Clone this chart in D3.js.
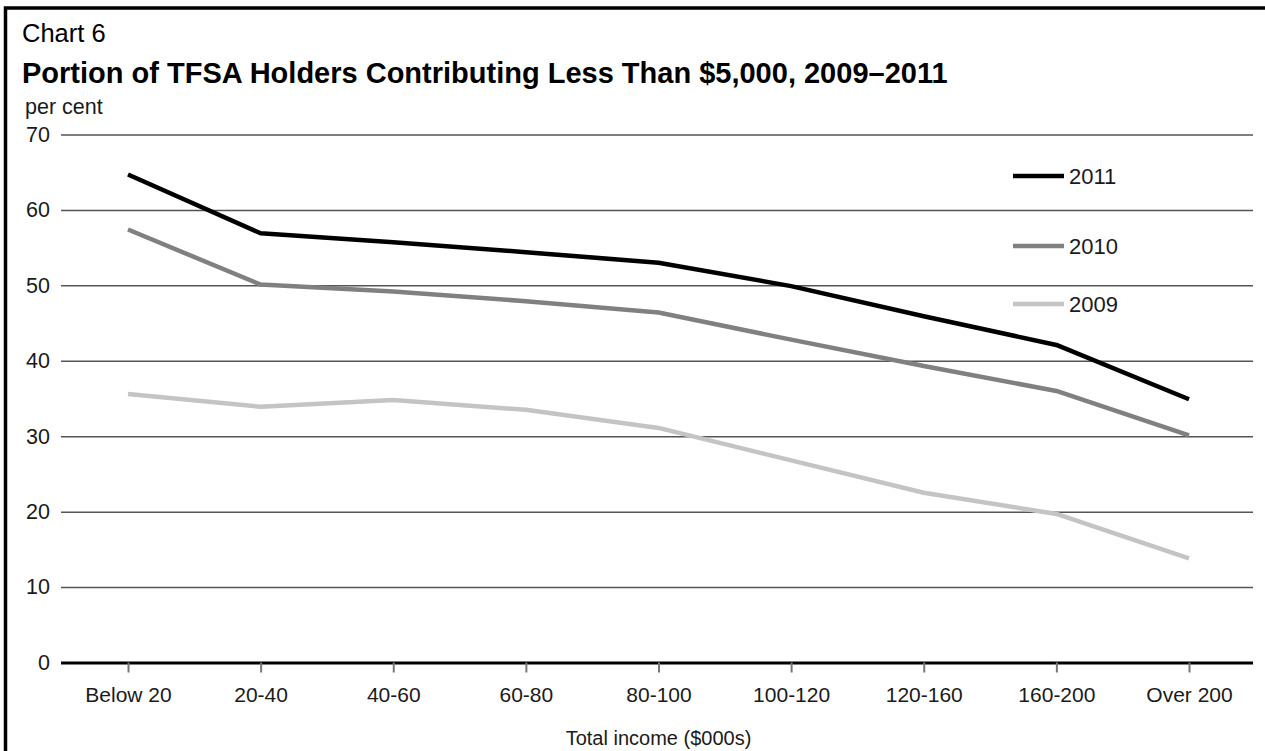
<!DOCTYPE html>
<html>
<head>
<meta charset="utf-8">
<script src="https://cdn.jsdelivr.net/npm/d3@7"></script>
<style>
  html, body { margin: 0; padding: 0; background: #fff; }
  svg { display: block; font-family: "Liberation Sans", Arial, Helvetica, sans-serif; }
</style>
</head>
<body>
<svg id="chart" width="1265" height="751"></svg>
<script>
const categories = ["Below 20", "20-40", "40-60", "60-80", "80-100", "100-120", "120-160", "160-200", "Over 200"];
const values2011 = [64.7, 56.9, 55.7, 54.4, 53.0, 49.9, 45.9, 42.1, 34.9];
const values2010 = [57.4, 50.1, 49.2, 47.9, 46.4, 42.8, 39.3, 36.0, 30.1];
const values2009 = [35.6, 33.9, 34.8, 33.5, 31.1, 26.8, 22.5, 19.7, 13.8];
const seriesNames = ["2011", "2010", "2009"];
const yTicks = [0, 10, 20, 30, 40, 50, 60, 70];

const seriesColors = { "2011": "#000000", "2010": "#808080", "2009": "#c4c4c4" };
const seriesData = { "2011": values2011, "2010": values2010, "2009": values2009 };

const svg = d3.select("#chart");
const left = 61, right = 1253;

const x = d3.scalePoint().domain(categories).range([128, 1189]);
const y = d3.scaleLinear().domain([0, 70]).range([662.5, 134.5]);

// frame
svg.append("rect")
  .attr("x", 5.5).attr("y", 8)
  .attr("width", 1300).attr("height", 800)
  .attr("fill", "none").attr("stroke", "#000").attr("stroke-width", 3.5);

// titles
svg.append("text").attr("x", 22).attr("y", 42)
  .attr("font-size", 25.5).attr("fill", "#000").text("Chart 6");
svg.append("text").attr("x", 22).attr("y", 83)
  .attr("font-size", 29).attr("font-weight", "bold").attr("fill", "#000")
  .text("Portion of TFSA Holders Contributing Less Than $5,000, 2009–2011");
svg.append("text").attr("x", 25).attr("y", 114)
  .attr("font-size", 21.5).attr("fill", "#1a1a1a").text("per cent");

// y axis with gridlines
const yAxis = svg.append("g")
  .attr("transform", `translate(${left},0)`)
  .call(d3.axisLeft(y).tickValues(yTicks).tickSize(-(right - left)).tickPadding(11));
yAxis.select(".domain").remove();
yAxis.selectAll(".tick line")
  .attr("stroke", d => d === 0 ? "#000" : "#555")
  .attr("stroke-width", d => d === 0 ? 3 : 1.5);
yAxis.selectAll(".tick text")
  .attr("font-size", 21.5).attr("fill", "#1a1a1a")
  .attr("font-family", "Liberation Sans, Arial, sans-serif");

// x axis
const xAxis = svg.append("g")
  .attr("transform", `translate(0,${y(0)})`)
  .call(d3.axisBottom(x).tickSize(10));
xAxis.select(".domain").remove();
xAxis.selectAll(".tick line").attr("stroke", "#777").attr("stroke-width", 2);
xAxis.selectAll(".tick text")
  .attr("y", 39.5).attr("dy", 0)
  .attr("font-size", 21).attr("fill", "#1a1a1a")
  .attr("font-family", "Liberation Sans, Arial, sans-serif");

svg.append("text")
  .attr("x", (x(categories[0]) + x(categories[categories.length - 1])) / 2)
  .attr("y", 745).attr("text-anchor", "middle")
  .attr("font-size", 20).attr("fill", "#1a1a1a")
  .text("Total income ($000s)");

// lines
const line = d3.line().x((d, i) => x(categories[i])).y(d => y(d));
["2009", "2010", "2011"].forEach(name => {
  svg.append("path")
    .datum(seriesData[name])
    .attr("d", line)
    .attr("fill", "none")
    .attr("stroke", seriesColors[name])
    .attr("stroke-width", 4.5)
    .attr("stroke-linejoin", "round");
});

// legend
const legendY = [176, 246, 304];
const legend = svg.append("g");
seriesNames.forEach((name, i) => {
  const g = legend.append("g").attr("transform", `translate(1013,${legendY[i]})`);
  g.append("line").attr("x1", 0).attr("x2", 51).attr("y1", 0).attr("y2", 0)
    .attr("stroke", seriesColors[name]).attr("stroke-width", 4.5);
  g.append("text").attr("x", 56).attr("dy", "0.36em")
    .attr("font-size", 22).attr("fill", "#1a1a1a").text(name);
});
</script>
</body>
</html>
